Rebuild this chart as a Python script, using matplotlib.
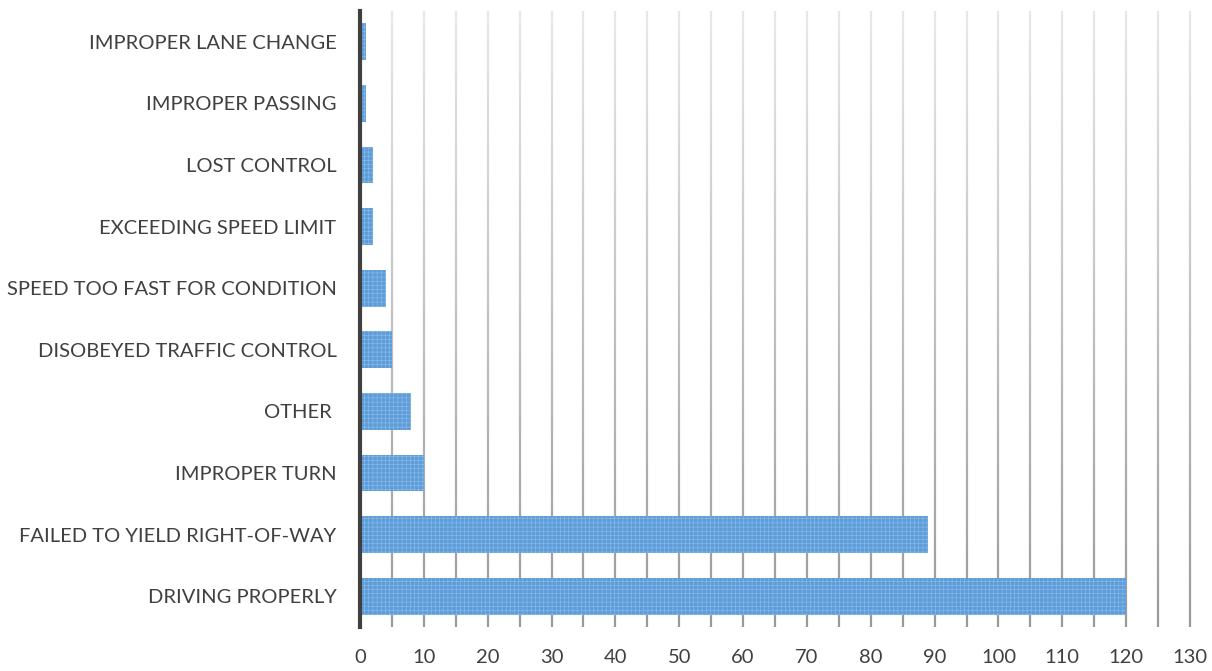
import matplotlib
matplotlib.use("Agg")
import matplotlib.pyplot as plt
import matplotlib.transforms as mtransforms
from matplotlib.collections import LineCollection
import numpy as np

categories = [
    "DRIVING PROPERLY",
    "FAILED TO YIELD RIGHT-OF-WAY",
    "IMPROPER TURN",
    "OTHER ",
    "DISOBEYED TRAFFIC CONTROL",
    "SPEED TOO FAST FOR CONDITION",
    "EXCEEDING SPEED LIMIT",
    "LOST CONTROL",
    "IMPROPER PASSING",
    "IMPROPER LANE CHANGE",
]
values = [120, 89, 10, 8, 5, 4, 2, 2, 1, 1]
x_ticks = list(range(0, 131, 10))
grid_positions = list(range(5, 131, 5))

plt.rcParams["font.family"] = ["Lato", "DejaVu Sans"]
plt.rcParams["hatch.linewidth"] = 0.4

fig = plt.figure(figsize=(12.12, 6.71), dpi=100)
ax = fig.add_axes([360 / 1212, 1 - 627 / 671, (1190 - 360) / 1212, (627 - 11) / 671])

y = np.arange(len(categories))
ax.barh(y, values, height=0.6, color="#5d9dd9", edgecolor="#8ebce8",
        linewidth=0, hatch="++++", zorder=3)

ax.set_xlim(0, 130)
ax.set_ylim(-0.5, len(categories) - 0.5)

# vertical gridlines shaded from light at the top to darker at the bottom
trans = mtransforms.blended_transform_factory(ax.transData, ax.transAxes)
n_seg = 60
ys = np.linspace(0, 1, n_seg + 1)
light = np.array([0.91, 0.91, 0.91])
dark = np.array([0.60, 0.60, 0.60])
segs, cols = [], []
for gx in grid_positions:
    for i in range(n_seg):
        segs.append([(gx, ys[i]), (gx, ys[i + 1])])
        t = 1 - (ys[i] + ys[i + 1]) / 2
        cols.append(tuple(light + (dark - light) * t))
lc = LineCollection(segs, colors=cols, linewidths=1.6, transform=trans,
                    zorder=1, clip_on=False, capstyle="butt")
ax.add_collection(lc)

for s in ["top", "right", "bottom"]:
    ax.spines[s].set_visible(False)
ax.spines["left"].set_color("#404040")
ax.spines["left"].set_linewidth(3.0)
ax.spines["left"].set_zorder(4)

ax.set_xticks(x_ticks)
ax.set_xticklabels([str(v) for v in x_ticks])
ax.set_yticks(y)
ax.set_yticklabels(categories)
ax.tick_params(axis="both", length=0, colors="#404040", labelsize=14.5)
ax.tick_params(axis="y", pad=17)
ax.tick_params(axis="x", pad=16)

fig.savefig("out.png", dpi=100)
